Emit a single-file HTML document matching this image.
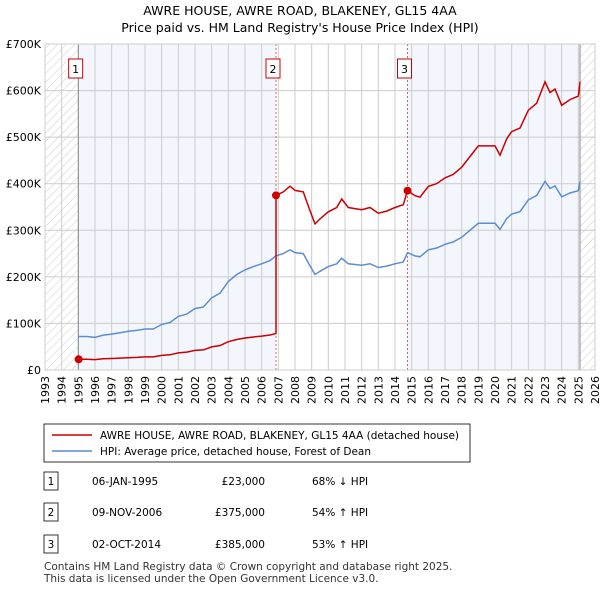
<!DOCTYPE html>
<html><head><meta charset="utf-8"><style>
body{margin:0;background:#fff;font-family:"Liberation Sans","DejaVu Sans",sans-serif;}
svg text{font-family:"DejaVu Sans","Liberation Sans",sans-serif;}
</style></head><body>
<svg id="chart" width="600" height="590" viewBox="0 0 600 590" xmlns="http://www.w3.org/2000/svg">
<defs><pattern id="hatch" width="6" height="6" patternUnits="userSpaceOnUse" patternTransform="rotate(45)"><line x1="0" y1="0" x2="0" y2="6" stroke="#ccc" stroke-width="1"/></pattern></defs>
<text x="300" y="15" text-anchor="middle" font-size="12.5" fill="#000">AWRE HOUSE, AWRE ROAD, BLAKENEY, GL15 4AA</text>
<text x="300" y="32" text-anchor="middle" font-size="12.5" fill="#000">Price paid vs. HM Land Registry's House Price Index (HPI)</text>
<g id="plot"></g>
<rect x="44" y="424" width="426" height="38" fill="#fff" stroke="#000" stroke-width="0.8"/>
<line x1="52" y1="435" x2="92" y2="435" stroke="#cc0000" stroke-width="1.5"/>
<text x="100" y="439" font-size="10.5">AWRE HOUSE, AWRE ROAD, BLAKENEY, GL15 4AA (detached house)</text>
<line x1="52" y1="451" x2="92" y2="451" stroke="#5b8dd0" stroke-width="1.5"/>
<text x="100" y="455" font-size="10.5">HPI: Average price, detached house, Forest of Dean</text>
<g id="table" font-size="10.5"></g>
<text x="44" y="570" font-size="10.5" fill="#333">Contains HM Land Registry data © Crown copyright and database right 2025.</text>
<text x="44" y="582" font-size="10.5" fill="#333">This data is licensed under the Open Government Licence v3.0.</text>
</svg>
<script>
const hpiYears=[1995.0,1995.5,1996,1996.5,1997,1997.5,1998,1998.5,1999,1999.5,2000,2000.5,2001,2001.5,2002,2002.5,2003,2003.5,2004,2004.5,2005,2005.5,2006,2006.5,2006.85,2007.3,2007.7,2008,2008.5,2008.8,2009.2,2009.5,2010,2010.5,2010.8,2011.2,2012,2012.5,2013,2013.5,2014,2014.5,2014.75,2015.2,2015.5,2016,2016.5,2017,2017.5,2018,2018.5,2019,2019.5,2020,2020.3,2020.7,2021,2021.5,2022,2022.5,2023,2023.3,2023.6,2024,2024.5,2025,2025.1];
const hpiValues=[72,72,70,75,77,80,83,85,88,88,98,102,115,120,132,135,155,165,190,205,215,222,228,235,245,250,258,252,250,230,205,212,222,228,240,228,225,228,220,223,228,232,252,245,243,258,262,270,275,285,300,315,315,315,302,325,335,340,365,375,405,390,395,372,380,385,405];
const saleDates=[1995.02,2006.86,2014.75];
const salePrices=[23000,375000,385000];
const saleLabels=["1","2","3"];
const saleDateText=["06-JAN-1995","09-NOV-2006","02-OCT-2014"];
const salePriceText=["£23,000","£375,000","£385,000"];
const saleHpiText=["68% ↓ HPI","54% ↑ HPI","53% ↑ HPI"];
const yTicks=[0,100000,200000,300000,400000,500000,600000,700000];
const yTickLabels=["£0","£100K","£200K","£300K","£400K","£500K","£600K","£700K"];
const xTicks=[1993,1994,1995,1996,1997,1998,1999,2000,2001,2002,2003,2004,2005,2006,2007,2008,2009,2010,2011,2012,2013,2014,2015,2016,2017,2018,2019,2020,2021,2022,2023,2024,2025,2026];

const NS="http://www.w3.org/2000/svg";
const L=45,R=595,T=44,B=370;
const X=y=>L+(y-1993)/(2026-1993)*(R-L);
const Y=v=>B-v/700000*(B-T);
const g=document.getElementById('plot');
function mk(tag,attrs,parent){const e=document.createElementNS(NS,tag);for(const k in attrs)e.setAttribute(k,attrs[k]);(parent||g).appendChild(e);return e;}
function hpiAt(t){for(let i=0;i<hpiYears.length-1;i++){if(t<=hpiYears[i+1]){const f=(t-hpiYears[i])/(hpiYears[i+1]-hpiYears[i]);return (hpiValues[i]+f*(hpiValues[i+1]-hpiValues[i]))*1000;}}return hpiValues[hpiValues.length-1]*1000;}

let e;
e=mk('rect',{x:L,y:T,width:R-L,height:B-T,fill:'#fff'});


e=mk('rect',{x:X(1995),y:T,width:X(2006.86)-X(1995),height:B-T,fill:'#eef2fc',opacity:0.7});


e=mk('rect',{x:X(2014.75),y:T,width:X(2025.05)-X(2014.75),height:B-T,fill:'#eef2fc',opacity:0.7});


e=mk('rect',{x:L,y:T,width:X(1995)-L,height:B-T,fill:'url(#hatch)'});


e=mk('rect',{x:X(2025.1),y:T,width:R-X(2025.1),height:B-T,fill:'url(#hatch)'});



xTicks.forEach(t=>{
 e=mk('line',{x1:X(t),x2:X(t),y1:T,y2:B,stroke:'#ccc','stroke-width':1});
 
 
 e=mk('text',{x:0,y:0,'font-size':11,'text-anchor':'end',transform:`translate(${X(t)+4},${B+6}) rotate(-90)`});
 e.textContent=t;
 
 
});
yTicks.forEach((v,i)=>{
 e=mk('line',{x1:L,x2:R,y1:Y(v),y2:Y(v),stroke:'#ccc','stroke-width':1});
 
 
 e=mk('text',{x:L-4,y:Y(v)+4,'font-size':11,'text-anchor':'end'});
 e.textContent=yTickLabels[i];
 
 
});

saleDates.forEach((t,i)=>{
 if(i>0){
 e=mk('line',{x1:X(t),x2:X(t),y1:T,y2:B,stroke:'#e06060','stroke-width':1,'stroke-dasharray':'2,2'});
 
 
 }
});
e=mk('line',{x1:X(1995),x2:X(1995),y1:T,y2:B,stroke:'#888','stroke-width':1});


e=mk('line',{x1:X(2025.1),x2:X(2025.1),y1:T,y2:B,stroke:'#888','stroke-width':1});



let d=hpiYears.map((t,i)=>(i?'L':'M')+X(t).toFixed(1)+','+Y(hpiValues[i]*1000).toFixed(1)).join('');
e=mk('path',{d:d,fill:'none',stroke:'#5b8dd0','stroke-width':1.5});



let pts=[];
hpiYears.forEach((t,i)=>{
 if(t<saleDates[0])return;
 let k=0;for(let j=0;j<saleDates.length;j++)if(t>=saleDates[j])k=j;
 if(i>0&&hpiYears[i-1]<saleDates[k]&&k>0){
  const prev=salePrices[k-1]*hpiAt(saleDates[k])/hpiAt(saleDates[k-1]);
  pts.push([saleDates[k],prev]);pts.push([saleDates[k],salePrices[k]]);
 }
 pts.push([t,salePrices[k]*hpiAt(t)/hpiAt(saleDates[k])]);
});
pts.unshift([saleDates[0],salePrices[0]]);
d=pts.map((p,i)=>(i?'L':'M')+X(p[0]).toFixed(1)+','+Y(p[1]).toFixed(1)).join('');
e=mk('path',{d:d,fill:'none',stroke:'#cc0000','stroke-width':1.5});



saleDates.forEach((t,i)=>{
 e=mk('circle',{cx:X(t),cy:Y(salePrices[i]),r:4,fill:'#cc0000'});
 
 
 e=mk('rect',{x:X(t)-10,y:59,width:14,height:19,fill:'#fff',stroke:'#cc0000','stroke-width':1});
 
 
 e=mk('text',{x:X(t)-3,y:73,'font-size':11,'text-anchor':'middle'});
 e.textContent=saleLabels[i];
 
 
});
e=mk('rect',{x:L,y:T,width:R-L,height:B-T,fill:'none',stroke:'#ccc','stroke-width':1});



const tb=document.getElementById('table');
const rowY=[482,513,545];
saleLabels.forEach((s,i)=>{
 const y=rowY[i];
 e=mk('rect',{x:44,y:y-10,width:14,height:18,fill:'#fff',stroke:'#000','stroke-width':0.8},tb);
 
 
 e=mk('text',{x:51,y:y+3,'text-anchor':'middle'},tb);e.textContent=s;
 
 
 e=mk('text',{x:92,y:y+3},tb);e.textContent=saleDateText[i];
 
 
 e=mk('text',{x:265,y:y+3,'text-anchor':'end'},tb);e.textContent=salePriceText[i];
 
 
 e=mk('text',{x:312,y:y+3},tb);e.textContent=saleHpiText[i];
 
 
});
</script>
</body></html>
